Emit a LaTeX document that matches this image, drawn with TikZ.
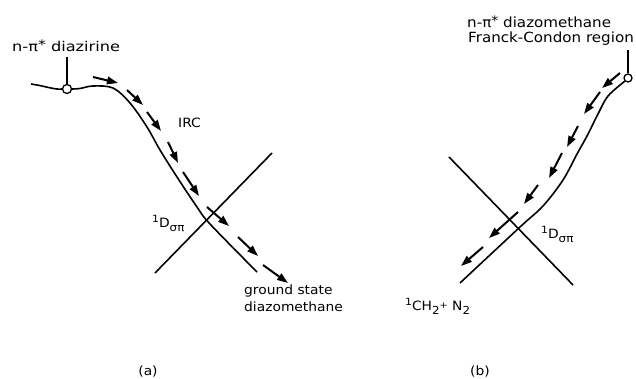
\documentclass[tikz,border=0pt]{standalone}
\usepackage{fontspec}
\setmainfont{DejaVu Sans}
\newfontfamily\wfont[FakeStretch=1.08]{DejaVu Sans}
\newfontfamily\xfont[FakeStretch=1.2]{DejaVu Sans}
\usetikzlibrary{arrows.meta}
\tikzset{
  curve/.style={line width=1.6pt},
  irc/.style={line width=2pt, -{Triangle[length=11pt,width=7.5pt]}},
  lbl/.style={inner sep=0pt, font=\wfont\fontsize{12.8}{17}\selectfont},
  biglbl/.style={inner sep=0pt, font=\wfont\fontsize{14}{15}\selectfont},
  albl/.style={inner sep=0pt, font=\xfont\fontsize{13.5}{15}\selectfont},
  ring/.style={circle, draw, line width=1.3pt, fill=white, minimum size=9pt, inner sep=0pt},
}
\newcommand\supx[1]{\raisebox{4.5pt}{\fontsize{10}{10}\selectfont #1}}
\newcommand\subx[1]{\raisebox{-4pt}{\fontsize{11}{10}\selectfont #1}}
\newcommand\starx{\raisebox{2pt}{\fontsize{13}{13}\selectfont *}}
\newcommand\plusx{\raisebox{2pt}{\fontsize{9}{9}\selectfont +}}
\begin{document}
\begin{tikzpicture}[x=1pt,y=-1pt]
\useasboundingbox (0,0) rectangle (636,379);
% ---------- panel (a)
\node[ring] (ca) at (67,89) {};
\coordinate (ta) at (67,57);
\draw[curve] (ca.north) -- (ta);
\draw[curve] (31,84) .. controls (45,86) and (55,90) .. (ca.west);
\draw[curve] plot[smooth, tension=0.55] coordinates {(ca.east) (80,88.5) (93,86) (113,88) (130,103) (147,127) (160,150) (177,177) (197,207) (210,224) (257,272)};
\draw[curve] (155,273) -- (272,153);
\draw[irc] (93,77) -- (118,83);
\draw[irc] (127,90) -- (143,105);
\draw[irc] (147,112) -- (161,131);
\draw[irc] (168,142) -- (178,163);
\draw[irc] (183,172) -- (199,196);
\draw[irc] (207,207) -- (229,226);
\draw[irc] (238,237) -- (258,256);
\draw[irc] (263,265) -- (288,283);
\node[albl, anchor=base west] (la) at (12,52) {n-π\starx\ diazirine};
\node[lbl, anchor=base west] (irc) at (178,128) {IRC};
\node[lbl, anchor=base west] (da) at (152,227) {\supx{1}D\subx{σπ}};
\node[lbl, anchor=base west, align=left] (gs) at (244,311) {ground state\\diazomethane};
\node[lbl] (pa) at (148,371) {(a)};
% ---------- panel (b)
\node[ring, minimum size=8pt] (cb) at (628,78) {};
\coordinate (tb) at (628,50);
\draw[curve] (cb.north) -- (tb);
\draw[curve] plot[smooth, tension=0.55] coordinates {(cb.south west) (608,96) (598,114) (587,136) (577,154) (563,180) (543,206) (520,227) (460,283)};
\draw[curve] (449,157) -- (573,285);
\draw[irc] (620,73) -- (602,88);
\draw[irc] (600,92) -- (584,114);
\draw[irc] (578,126) -- (567,147);
\draw[irc] (562,153) -- (549,178);
\draw[irc] (538,185) -- (524,204);
\draw[irc] (518,212) -- (489,238);
\draw[irc] (483,247) -- (461,266);
\node[biglbl, anchor=base west] (lb1) at (467,28) {n-π\starx\ diazomethane};
\node[biglbl, anchor=base west] (lb2) at (468,43) {Franck-Condon region};
\node[lbl, anchor=base west] (db) at (541,238) {\supx{1}D\subx{σπ}};
\node[lbl, anchor=base west] (pr) at (405,310) {\supx{1}CH\subx{2}\plusx\ N\subx{2}};
\node[lbl] (pb) at (480,371) {(b)};
\end{tikzpicture}
\end{document}
